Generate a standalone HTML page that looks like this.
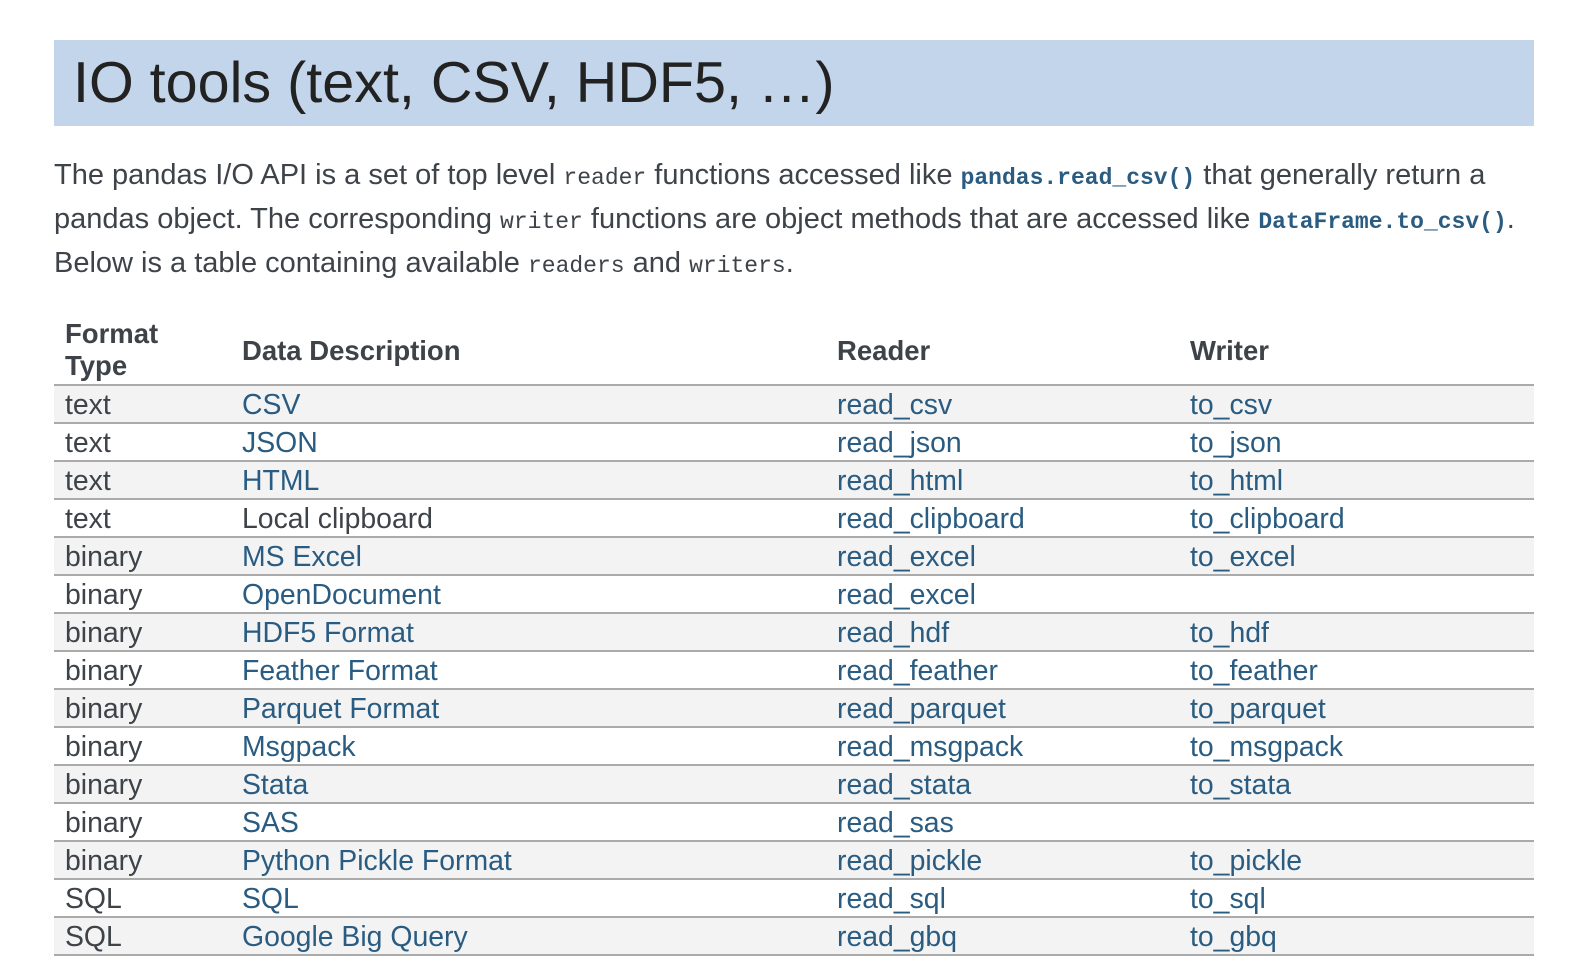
<!DOCTYPE html>
<html><head><meta charset="utf-8"><style>
body{margin:0;width:1580px;height:980px;background:#fff;position:relative;overflow:hidden;font-family:"Liberation Sans",Arial,sans-serif;color:#3e4349}
.a{position:absolute;line-height:1;white-space:nowrap}
#hb{position:absolute;left:54px;top:40px;width:1480px;height:86px;background:#c3d5ea}
.p{font-size:29px;left:54px}
code{font-family:"Liberation Mono",monospace;font-size:23px;color:#3e4349}
code.l{color:#2a5c82;font-weight:bold}
.bg{position:absolute;left:54px;width:1480px;height:38px;background:#f3f3f3}
.ln{position:absolute;left:54px;width:1480px;height:2px;background:#ababab}
.t{font-size:28.4px}
.lk{color:#2a5c82}
.h{font-size:27.5px;font-weight:bold}
</style></head><body>
<div id="hb"></div>
<div class="a" style="left:73px;top:55px;font-size:57.5px;color:#222">IO tools (text, CSV, HDF5, …)</div>
<div class="a p" style="top:161px">The pandas I/O API is a set of top level <code>reader</code> functions accessed like <code class="l">pandas.read_csv()</code> that generally return a</div>
<div class="a p" style="top:205px">pandas object. The corresponding <code>writer</code> functions are object methods that are accessed like <code class="l">DataFrame.to_csv()</code>.</div>
<div class="a p" style="top:249px">Below is a table containing available <code>readers</code> and <code>writers</code>.</div>

<div class="a h" style="left:65px;top:320px">Format</div>
<div class="a h" style="left:65px;top:352px">Type</div>
<div class="a h" style="left:242px;top:337px">Data Description</div>
<div class="a h" style="left:837px;top:337px">Reader</div>
<div class="a h" style="left:1190px;top:337px">Writer</div>

<div id="rows"></div>
<script>
var d=[["text","CSV","read_csv","to_csv",1],["text","JSON","read_json","to_json",1],["text","HTML","read_html","to_html",1],["text","Local clipboard","read_clipboard","to_clipboard",0],["binary","MS Excel","read_excel","to_excel",1],["binary","OpenDocument","read_excel","",1],["binary","HDF5 Format","read_hdf","to_hdf",1],["binary","Feather Format","read_feather","to_feather",1],["binary","Parquet Format","read_parquet","to_parquet",1],["binary","Msgpack","read_msgpack","to_msgpack",1],["binary","Stata","read_stata","to_stata",1],["binary","SAS","read_sas","",1],["binary","Python Pickle Format","read_pickle","to_pickle",1],["SQL","SQL","read_sql","to_sql",1],["SQL","Google Big Query","read_gbq","to_gbq",1]];
var h="";
for(var k=0;k<d.length;k++){var y=385+38*k;
if(k%2==0)h+='<div class="bg" style="top:'+y+'px"></div>';
var tt=391+38*k;
h+='<div class="a t" style="left:65px;top:'+tt+'px">'+d[k][0]+'</div>';
h+='<div class="a t'+(d[k][4]?' lk':'')+'" style="left:242px;top:'+tt+'px">'+d[k][1]+'</div>';
h+='<div class="a t lk" style="left:837px;top:'+tt+'px">'+d[k][2]+'</div>';
h+='<div class="a t lk" style="left:1190px;top:'+tt+'px">'+d[k][3]+'</div>';}
for(var k=0;k<=d.length;k++){h+='<div class="ln" style="top:'+(384+38*k)+'px"></div>';}
document.getElementById("rows").innerHTML=h;
</script>
</body></html>
